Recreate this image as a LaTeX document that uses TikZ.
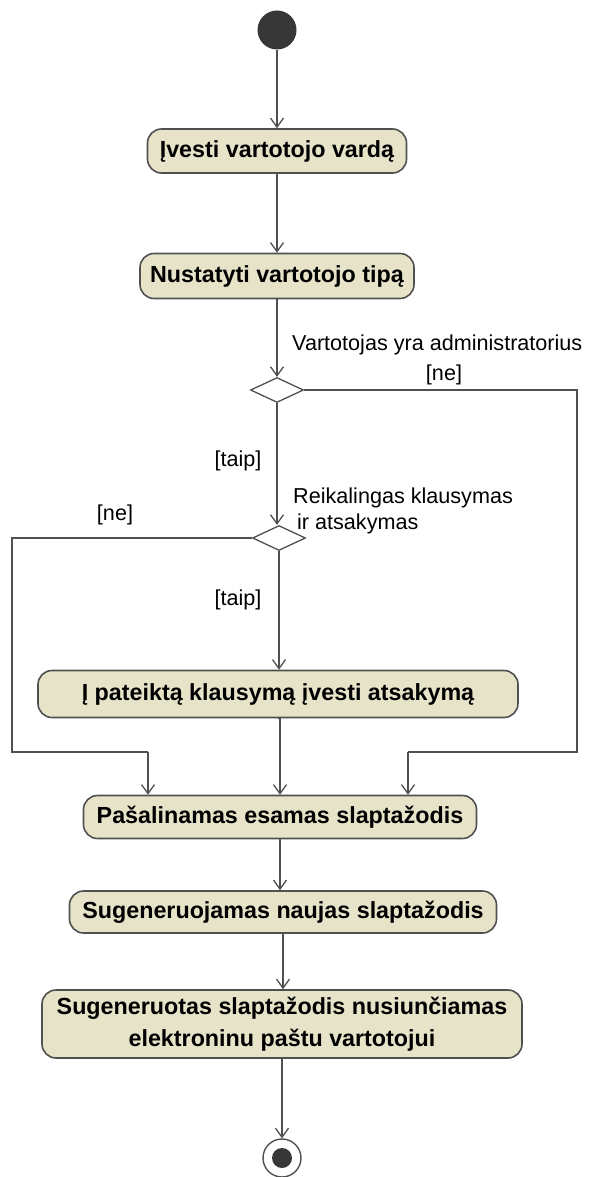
\documentclass[tikz,border=0pt]{standalone}
\usepackage{fontspec}
\setmainfont{Liberation Sans}
\usetikzlibrary{arrows.meta,shapes.geometric}
\definecolor{actfill}{RGB}{230,227,201}
\definecolor{linegray}{RGB}{80,80,80}
\definecolor{dotgray}{RGB}{55,55,55}
\tikzset{
  activity/.style={draw=linegray, line width=1.6pt, fill=actfill, rounded corners=14pt,
    inner sep=0pt, align=center, font=\fontsize{23.3}{32}\selectfont\bfseries},
  decision/.style={draw=linegray, line width=1.3pt, fill=white, diamond, aspect=2.15,
    minimum width=53pt, minimum height=25pt, inner sep=0pt},
  flow/.style={draw=linegray, line width=1.3pt, -{Straight Barb[length=9pt,width=13pt,line width=1.3pt]}},
  plain/.style={draw=linegray, line width=1.3pt},
  guard/.style={font=\fontsize{21.6}{26}\selectfont, inner sep=0pt},
}
\begin{document}
\begin{tikzpicture}[x=1pt,y=-1pt]
\useasboundingbox (0,0) rectangle (593,1177);

% initial and final states
\node[circle, fill=dotgray, minimum size=39pt, inner sep=0pt] (start) at (277,30) {};
\node[circle, draw=linegray, line width=1.4pt, minimum size=38pt, inner sep=0pt] (end) at (282,1158) {};
\node[circle, fill=dotgray, minimum size=20pt, inner sep=0pt] (endin) at (282,1158) {};

% activities
\node[activity, minimum width=259pt, minimum height=44pt] (n1) at (277,151) {Įvesti vartotojo vardą};
\node[activity, minimum width=274pt, minimum height=45pt] (n2) at (277,276) {Nustatyti vartotojo tipą};
\node[activity, minimum width=480pt, minimum height=47pt] (n3) at (278,694) {Į pateiktą klausymą įvesti atsakymą};
\node[activity, minimum width=393pt, minimum height=43pt] (n4) at (280,817) {Pašalinamas esamas slaptažodis};
\node[activity, minimum width=427pt, minimum height=42pt] (n5) at (283,912) {Sugeneruojamas naujas slaptažodis};
\node[activity, minimum width=480pt, minimum height=68pt] (n6) at (282,1024) {Sugeneruotas slaptažodis nusiunčiamas\\elektroninu paštu vartotojui};

% decisions
\node[decision] (d1) at (277,390) {};
\node[decision] (d2) at (279,538) {};

% bend points of the side branches
\coordinate (rc) at (577,752);
\coordinate (rt) at (408,752);
\coordinate (lc) at (12,752);
\coordinate (lt) at (148,752);

% connectors
\draw[flow] (start) -- (n1);
\draw[flow] (n1) -- (n2);
\draw[flow] (n2.south) -- (d1.north);
\draw[flow] (d1.south) -- (d1.south |- d2.north);
\draw[flow] (d2.south) -- (d2.south |- n3.north);
\draw[flow] (n3.south) -- (n3.south -| n4.north) -- (n4.north);
\draw[flow] (n4.south) -- (n4.south |- n5.north);
\draw[flow] (n5.south) -- (n5.south |- n6.north);
\draw[flow] (n6.south) -- (end.north);
\draw[plain] (d1.east) -| (rc) -- (rt);
\draw[flow] (rt) -- (rt |- n4.north);
\draw[plain] (d2.west) -| (lc) -- (lt);
\draw[flow] (lt) -- (lt |- n4.north);

% guards and conditions
\node[guard, anchor=west] (c1) at (292,345) {Vartotojas yra administratorius};
\node[guard] (g1) at (444,375) {[ne]};
\node[guard] (g2) at (238,461) {[taip]};
\node[guard] (g3) at (115,515) {[ne]};
\node[guard, anchor=west] (c2a) at (293,498) {Reikalingas klausymas};
\node[guard, anchor=west] (c2b) at (297,524) {ir atsakymas};
\node[guard] (g4) at (238,600) {[taip]};
\end{tikzpicture}
\end{document}
